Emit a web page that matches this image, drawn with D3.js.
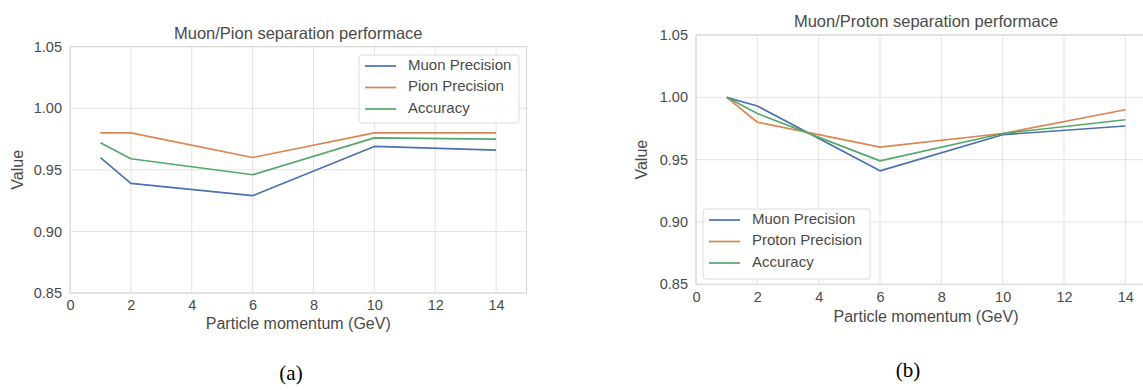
<!DOCTYPE html>
<html>
<head>
<meta charset="utf-8">
<script src="https://cdn.jsdelivr.net/npm/d3@7"></script>
<style>
  html, body { margin: 0; padding: 0; background: #ffffff; }
  svg { display: block; }
</style>
</head>
<body>
<svg id="chart" width="1143" height="390"></svg>
<script>
// ---- data ----
const momentum = [1, 2, 6, 10, 14];
const xTicks = [0, 2, 4, 6, 8, 10, 12, 14];
const yTicks = [0.85, 0.90, 0.95, 1.00, 1.05];

const pionMuonPrecision = [0.960, 0.939, 0.929, 0.969, 0.966];
const pionPionPrecision = [0.980, 0.980, 0.960, 0.980, 0.980];
const pionAccuracy      = [0.972, 0.959, 0.946, 0.976, 0.975];

const protonMuonPrecision   = [1.000, 0.993, 0.941, 0.970, 0.977];
const protonProtonPrecision = [1.000, 0.980, 0.960, 0.971, 0.990];
const protonAccuracy        = [1.000, 0.987, 0.949, 0.971, 0.982];

const titleA = "Muon/Pion separation performace";
const titleB = "Muon/Proton separation performace";
const seriesNamesA = ["Muon Precision", "Pion Precision", "Accuracy"];
const seriesNamesB = ["Muon Precision", "Proton Precision", "Accuracy"];
const colors = ["#4c72b0", "#dd8452", "#55a868"];
const xLabel = "Particle momentum (GeV)";
const yLabel = "Value";

const svg = d3.select("#chart");
const FONT = "'Liberation Sans', Arial, sans-serif";
const TXT = "#4a4a4a";

function drawChart(opt) {
  const g = svg.append("g");
  const x = d3.scaleLinear().domain([0, 15]).range([opt.left, opt.right]);
  const y = d3.scaleLinear().domain([0.85, 1.05]).range([opt.bottom, opt.top]);

  // grid
  g.selectAll(".gx").data(xTicks).enter().append("line")
    .attr("x1", d => x(d)).attr("x2", d => x(d))
    .attr("y1", opt.top).attr("y2", opt.bottom)
    .attr("stroke", "#e3e3e3").attr("stroke-width", 1);
  g.selectAll(".gy").data(yTicks).enter().append("line")
    .attr("x1", opt.left).attr("x2", opt.right)
    .attr("y1", d => y(d)).attr("y2", d => y(d))
    .attr("stroke", "#e3e3e3").attr("stroke-width", 1);
  // frame
  g.append("rect").attr("x", opt.left).attr("y", opt.top)
    .attr("width", opt.right - opt.left).attr("height", opt.bottom - opt.top)
    .attr("fill", "none").attr("stroke", "#d6d6d6").attr("stroke-width", 1);

  // axes (labels only)
  const xAxis = d3.axisBottom(x).tickValues(xTicks).tickSize(0).tickPadding(7).tickFormat(d3.format("d"));
  const gx = g.append("g").attr("transform", `translate(0,${opt.bottom})`).call(xAxis);
  gx.select(".domain").remove();
  gx.selectAll("text").attr("font-family", FONT).attr("font-size", 14.5).attr("fill", TXT);

  const yAxis = d3.axisLeft(y).tickValues(yTicks).tickSize(0).tickPadding(8).tickFormat(d3.format(".2f"));
  const gy = g.append("g").attr("transform", `translate(${opt.left},0)`).call(yAxis);
  gy.select(".domain").remove();
  gy.selectAll("text").attr("font-family", FONT).attr("font-size", 14.5).attr("fill", TXT);

  // title
  g.append("text").attr("x", (opt.left + opt.right) / 2).attr("y", opt.titleY)
    .attr("text-anchor", "middle").attr("dominant-baseline", "middle")
    .attr("font-family", FONT).attr("font-size", 16.5).attr("fill", TXT).text(opt.title);
  // x label
  g.append("text").attr("x", (opt.left + opt.right) / 2).attr("y", opt.xLabelY)
    .attr("text-anchor", "middle").attr("dominant-baseline", "middle")
    .attr("font-family", FONT).attr("font-size", 16).attr("fill", TXT).text(xLabel);
  // y label
  g.append("text").attr("transform", `translate(${opt.yLabelX},${(opt.top + opt.bottom) / 2}) rotate(-90)`)
    .attr("text-anchor", "middle").attr("dominant-baseline", "middle")
    .attr("font-family", FONT).attr("font-size", 16).attr("fill", TXT).text(yLabel);

  // lines
  const line = d3.line().x((d, i) => x(momentum[i])).y(d => y(d));
  opt.series.forEach((s, k) => {
    g.append("path").datum(s).attr("d", line)
      .attr("fill", "none").attr("stroke", colors[k]).attr("stroke-width", 1.7)
      .attr("stroke-linejoin", "round");
  });

  // legend
  const lg = g.append("g");
  lg.append("rect").attr("x", opt.legend.x).attr("y", opt.legend.y)
    .attr("width", opt.legend.w).attr("height", opt.legend.h).attr("rx", 3)
    .attr("fill", "#ffffff").attr("fill-opacity", 0.85).attr("stroke", "#dcdcdc");
  opt.names.forEach((n, k) => {
    const ry = opt.legend.y + 11 + k * 21.5;
    lg.append("line").attr("x1", opt.legend.x + 6).attr("x2", opt.legend.x + 37)
      .attr("y1", ry).attr("y2", ry).attr("stroke", colors[k]).attr("stroke-width", 1.7);
    lg.append("text").attr("x", opt.legend.x + 49).attr("y", ry)
      .attr("dominant-baseline", "middle").attr("font-family", FONT)
      .attr("font-size", 15).attr("fill", TXT).text(n);
  });

  // caption
  g.append("text").attr("x", opt.captionX).attr("y", opt.captionY)
    .attr("text-anchor", "middle").attr("dominant-baseline", "middle")
    .attr("font-family", "'Liberation Serif', 'Times New Roman', serif")
    .attr("font-size", 21).attr("fill", "#000").text(opt.caption);
}

drawChart({
  left: 70, right: 526.5, top: 46.7, bottom: 293,
  title: titleA, titleY: 35, xLabelY: 325, yLabelX: 19,
  series: [pionMuonPrecision, pionPionPrecision, pionAccuracy],
  names: seriesNamesA,
  legend: { x: 359, y: 55, w: 160, h: 68 },
  caption: "(a)", captionX: 291, captionY: 375
});

drawChart({
  left: 696, right: 1156, top: 35, bottom: 284.3,
  title: titleB, titleY: 23, xLabelY: 318, yLabelX: 643,
  series: [protonMuonPrecision, protonProtonPrecision, protonAccuracy],
  names: seriesNamesB,
  legend: { x: 703, y: 209, w: 167, h: 70 },
  caption: "(b)", captionX: 908, captionY: 372
});
</script>
</body>
</html>
